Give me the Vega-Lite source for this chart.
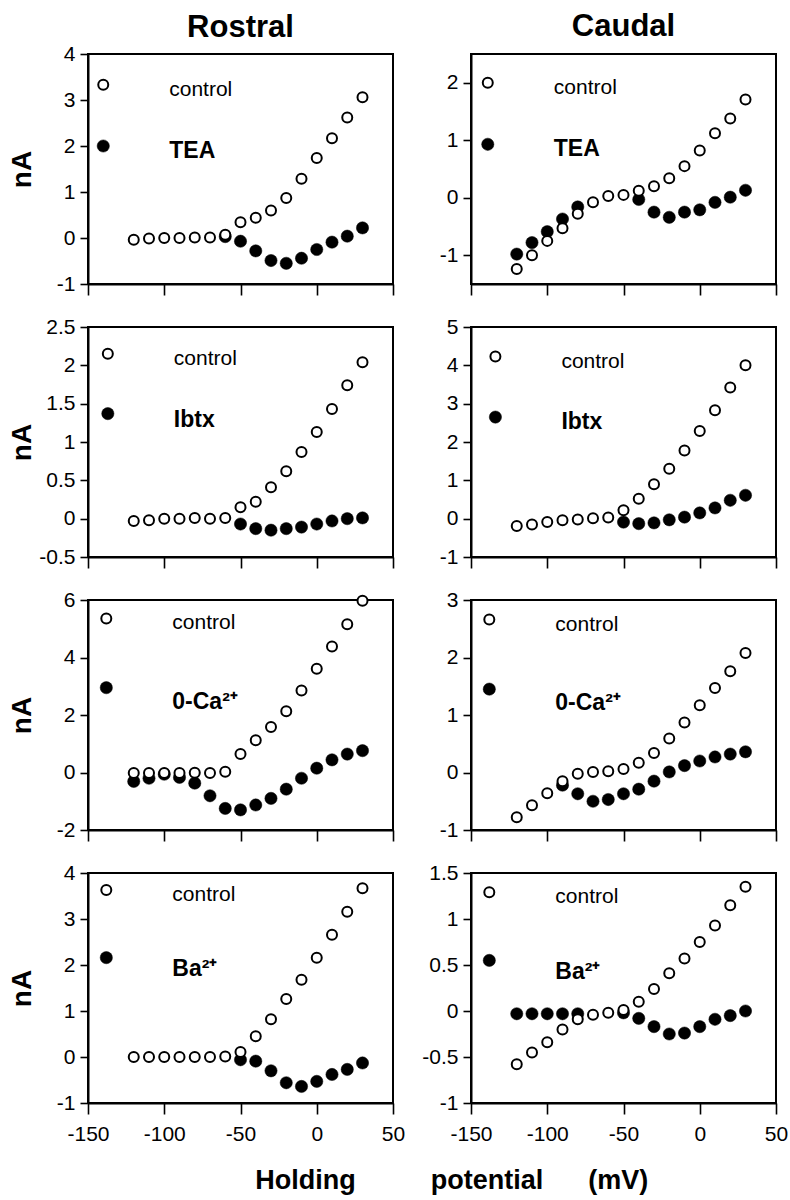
{
  "$schema": "https://vega.github.io/schema/vega-lite/v6.json",
  "background": "white",
  "padding": {"left": 7, "top": 10, "right": 5, "bottom": 5},
  "title": {"text": "Holding \u00a0\u00a0\u00a0\u00a0\u00a0\u00a0\u00a0\u00a0\u00a0potential \u00a0\u00a0\u00a0\u00a0\u00a0(mV)", "orient": "bottom", "anchor": "middle", "fontSize": 27, "fontWeight": "bold", "font": "Liberation Sans", "offset": 23, "dx": 54, "color": "black"},
  "data": {"values": [
    {"panel":"RT","cond":"control","mV":-120,"nA":-0.04},{"panel":"RT","cond":"control","mV":-110,"nA":-0.01},{"panel":"RT","cond":"control","mV":-100,"nA":0},{"panel":"RT","cond":"control","mV":-90,"nA":0},{"panel":"RT","cond":"control","mV":-80,"nA":0.01},{"panel":"RT","cond":"control","mV":-70,"nA":0.01},{"panel":"RT","cond":"control","mV":-60,"nA":0.07},{"panel":"RT","cond":"control","mV":-50,"nA":0.34},{"panel":"RT","cond":"control","mV":-40,"nA":0.44},{"panel":"RT","cond":"control","mV":-30,"nA":0.6},{"panel":"RT","cond":"control","mV":-20,"nA":0.87},{"panel":"RT","cond":"control","mV":-10,"nA":1.29},{"panel":"RT","cond":"control","mV":0,"nA":1.74},{"panel":"RT","cond":"control","mV":10,"nA":2.17},{"panel":"RT","cond":"control","mV":20,"nA":2.62},{"panel":"RT","cond":"control","mV":30,"nA":3.06},
    {"panel":"RT","cond":"drug","mV":-60,"nA":0.03},{"panel":"RT","cond":"drug","mV":-50,"nA":-0.07},{"panel":"RT","cond":"drug","mV":-40,"nA":-0.28},{"panel":"RT","cond":"drug","mV":-30,"nA":-0.49},{"panel":"RT","cond":"drug","mV":-20,"nA":-0.55},{"panel":"RT","cond":"drug","mV":-10,"nA":-0.44},{"panel":"RT","cond":"drug","mV":0,"nA":-0.25},{"panel":"RT","cond":"drug","mV":10,"nA":-0.09},{"panel":"RT","cond":"drug","mV":20,"nA":0.04},{"panel":"RT","cond":"drug","mV":30,"nA":0.22},
    {"panel":"RT","cond":"control","mV":-140,"nA":3.33,"label":"control"},{"panel":"RT","cond":"drug","mV":-140,"nA":2.0,"label":"TEA"},

    {"panel":"CT","cond":"control","mV":-120,"nA":-1.24},{"panel":"CT","cond":"control","mV":-110,"nA":-1.0},{"panel":"CT","cond":"control","mV":-100,"nA":-0.75},{"panel":"CT","cond":"control","mV":-90,"nA":-0.53},{"panel":"CT","cond":"control","mV":-80,"nA":-0.28},{"panel":"CT","cond":"control","mV":-70,"nA":-0.08},{"panel":"CT","cond":"control","mV":-60,"nA":0.03},{"panel":"CT","cond":"control","mV":-50,"nA":0.05},{"panel":"CT","cond":"control","mV":-40,"nA":0.12},{"panel":"CT","cond":"control","mV":-30,"nA":0.2},{"panel":"CT","cond":"control","mV":-20,"nA":0.34},{"panel":"CT","cond":"control","mV":-10,"nA":0.55},{"panel":"CT","cond":"control","mV":0,"nA":0.82},{"panel":"CT","cond":"control","mV":10,"nA":1.12},{"panel":"CT","cond":"control","mV":20,"nA":1.38},{"panel":"CT","cond":"control","mV":30,"nA":1.71},
    {"panel":"CT","cond":"drug","mV":-120,"nA":-0.98},{"panel":"CT","cond":"drug","mV":-110,"nA":-0.78},{"panel":"CT","cond":"drug","mV":-100,"nA":-0.59},{"panel":"CT","cond":"drug","mV":-90,"nA":-0.37},{"panel":"CT","cond":"drug","mV":-80,"nA":-0.16},{"panel":"CT","cond":"drug","mV":-40,"nA":-0.03},{"panel":"CT","cond":"drug","mV":-30,"nA":-0.25},{"panel":"CT","cond":"drug","mV":-20,"nA":-0.34},{"panel":"CT","cond":"drug","mV":-10,"nA":-0.25},{"panel":"CT","cond":"drug","mV":0,"nA":-0.21},{"panel":"CT","cond":"drug","mV":10,"nA":-0.08},{"panel":"CT","cond":"drug","mV":20,"nA":0.01},{"panel":"CT","cond":"drug","mV":30,"nA":0.13},
    {"panel":"CT","cond":"control","mV":-139,"nA":2.0,"label":"control"},{"panel":"CT","cond":"drug","mV":-139,"nA":0.93,"label":"TEA"},

    {"panel":"RI","cond":"control","mV":-120,"nA":-0.03},{"panel":"RI","cond":"control","mV":-110,"nA":-0.02},{"panel":"RI","cond":"control","mV":-100,"nA":0},{"panel":"RI","cond":"control","mV":-90,"nA":0},{"panel":"RI","cond":"control","mV":-80,"nA":0.01},{"panel":"RI","cond":"control","mV":-70,"nA":0},{"panel":"RI","cond":"control","mV":-60,"nA":0.01},{"panel":"RI","cond":"control","mV":-50,"nA":0.15},{"panel":"RI","cond":"control","mV":-40,"nA":0.22},{"panel":"RI","cond":"control","mV":-30,"nA":0.41},{"panel":"RI","cond":"control","mV":-20,"nA":0.62},{"panel":"RI","cond":"control","mV":-10,"nA":0.87},{"panel":"RI","cond":"control","mV":0,"nA":1.13},{"panel":"RI","cond":"control","mV":10,"nA":1.43},{"panel":"RI","cond":"control","mV":20,"nA":1.74},{"panel":"RI","cond":"control","mV":30,"nA":2.04},
    {"panel":"RI","cond":"drug","mV":-50,"nA":-0.07},{"panel":"RI","cond":"drug","mV":-40,"nA":-0.13},{"panel":"RI","cond":"drug","mV":-30,"nA":-0.15},{"panel":"RI","cond":"drug","mV":-20,"nA":-0.13},{"panel":"RI","cond":"drug","mV":-10,"nA":-0.11},{"panel":"RI","cond":"drug","mV":0,"nA":-0.07},{"panel":"RI","cond":"drug","mV":10,"nA":-0.03},{"panel":"RI","cond":"drug","mV":20,"nA":0.0},{"panel":"RI","cond":"drug","mV":30,"nA":0.01},
    {"panel":"RI","cond":"control","mV":-137,"nA":2.15,"label":"control"},{"panel":"RI","cond":"drug","mV":-137,"nA":1.37,"label":"Ibtx"},

    {"panel":"CI","cond":"control","mV":-120,"nA":-0.19},{"panel":"CI","cond":"control","mV":-110,"nA":-0.15},{"panel":"CI","cond":"control","mV":-100,"nA":-0.09},{"panel":"CI","cond":"control","mV":-90,"nA":-0.04},{"panel":"CI","cond":"control","mV":-80,"nA":-0.02},{"panel":"CI","cond":"control","mV":-70,"nA":0.01},{"panel":"CI","cond":"control","mV":-60,"nA":0.03},{"panel":"CI","cond":"control","mV":-50,"nA":0.22},{"panel":"CI","cond":"control","mV":-40,"nA":0.52},{"panel":"CI","cond":"control","mV":-30,"nA":0.9},{"panel":"CI","cond":"control","mV":-20,"nA":1.3},{"panel":"CI","cond":"control","mV":-10,"nA":1.78},{"panel":"CI","cond":"control","mV":0,"nA":2.29},{"panel":"CI","cond":"control","mV":10,"nA":2.83},{"panel":"CI","cond":"control","mV":20,"nA":3.42},{"panel":"CI","cond":"control","mV":30,"nA":4.0},
    {"panel":"CI","cond":"drug","mV":-50,"nA":-0.09},{"panel":"CI","cond":"drug","mV":-40,"nA":-0.13},{"panel":"CI","cond":"drug","mV":-30,"nA":-0.11},{"panel":"CI","cond":"drug","mV":-20,"nA":-0.03},{"panel":"CI","cond":"drug","mV":-10,"nA":0.04},{"panel":"CI","cond":"drug","mV":0,"nA":0.15},{"panel":"CI","cond":"drug","mV":10,"nA":0.28},{"panel":"CI","cond":"drug","mV":20,"nA":0.48},{"panel":"CI","cond":"drug","mV":30,"nA":0.61},
    {"panel":"CI","cond":"control","mV":-134,"nA":4.23,"label":"control"},{"panel":"CI","cond":"drug","mV":-134,"nA":2.65,"label":"Ibtx"},

    {"panel":"RC","cond":"control","mV":-120,"nA":-0.02},{"panel":"RC","cond":"control","mV":-110,"nA":-0.02},{"panel":"RC","cond":"control","mV":-100,"nA":-0.02},{"panel":"RC","cond":"control","mV":-90,"nA":-0.02},{"panel":"RC","cond":"control","mV":-80,"nA":-0.01},{"panel":"RC","cond":"control","mV":-70,"nA":-0.02},{"panel":"RC","cond":"control","mV":-60,"nA":0.03},{"panel":"RC","cond":"control","mV":-50,"nA":0.64},{"panel":"RC","cond":"control","mV":-40,"nA":1.12},{"panel":"RC","cond":"control","mV":-30,"nA":1.58},{"panel":"RC","cond":"control","mV":-20,"nA":2.13},{"panel":"RC","cond":"control","mV":-10,"nA":2.85},{"panel":"RC","cond":"control","mV":0,"nA":3.61},{"panel":"RC","cond":"control","mV":10,"nA":4.38},{"panel":"RC","cond":"control","mV":20,"nA":5.16},{"panel":"RC","cond":"control","mV":30,"nA":5.97},
    {"panel":"RC","cond":"drug","mV":-120,"nA":-0.31},{"panel":"RC","cond":"drug","mV":-110,"nA":-0.2},{"panel":"RC","cond":"drug","mV":-100,"nA":-0.06},{"panel":"RC","cond":"drug","mV":-90,"nA":-0.17},{"panel":"RC","cond":"drug","mV":-80,"nA":-0.37},{"panel":"RC","cond":"drug","mV":-70,"nA":-0.81},{"panel":"RC","cond":"drug","mV":-60,"nA":-1.25},{"panel":"RC","cond":"drug","mV":-50,"nA":-1.3},{"panel":"RC","cond":"drug","mV":-40,"nA":-1.13},{"panel":"RC","cond":"drug","mV":-30,"nA":-0.9},{"panel":"RC","cond":"drug","mV":-20,"nA":-0.58},{"panel":"RC","cond":"drug","mV":-10,"nA":-0.2},{"panel":"RC","cond":"drug","mV":0,"nA":0.15},{"panel":"RC","cond":"drug","mV":10,"nA":0.44},{"panel":"RC","cond":"drug","mV":20,"nA":0.64},{"panel":"RC","cond":"drug","mV":30,"nA":0.76},
    {"panel":"RC","cond":"control","mV":-138,"nA":5.36,"label":"control"},{"panel":"RC","cond":"drug","mV":-138,"nA":2.95,"label":"0-Ca²⁺"},

    {"panel":"CC","cond":"control","mV":-120,"nA":-0.78},{"panel":"CC","cond":"control","mV":-110,"nA":-0.57},{"panel":"CC","cond":"control","mV":-100,"nA":-0.36},{"panel":"CC","cond":"control","mV":-90,"nA":-0.15},{"panel":"CC","cond":"control","mV":-80,"nA":-0.02},{"panel":"CC","cond":"control","mV":-70,"nA":0.01},{"panel":"CC","cond":"control","mV":-60,"nA":0.02},{"panel":"CC","cond":"control","mV":-50,"nA":0.06},{"panel":"CC","cond":"control","mV":-40,"nA":0.17},{"panel":"CC","cond":"control","mV":-30,"nA":0.34},{"panel":"CC","cond":"control","mV":-20,"nA":0.59},{"panel":"CC","cond":"control","mV":-10,"nA":0.87},{"panel":"CC","cond":"control","mV":0,"nA":1.17},{"panel":"CC","cond":"control","mV":10,"nA":1.47},{"panel":"CC","cond":"control","mV":20,"nA":1.76},{"panel":"CC","cond":"control","mV":30,"nA":2.08},
    {"panel":"CC","cond":"drug","mV":-90,"nA":-0.22},{"panel":"CC","cond":"drug","mV":-80,"nA":-0.37},{"panel":"CC","cond":"drug","mV":-70,"nA":-0.5},{"panel":"CC","cond":"drug","mV":-60,"nA":-0.47},{"panel":"CC","cond":"drug","mV":-50,"nA":-0.37},{"panel":"CC","cond":"drug","mV":-40,"nA":-0.29},{"panel":"CC","cond":"drug","mV":-30,"nA":-0.15},{"panel":"CC","cond":"drug","mV":-20,"nA":0.01},{"panel":"CC","cond":"drug","mV":-10,"nA":0.12},{"panel":"CC","cond":"drug","mV":0,"nA":0.2},{"panel":"CC","cond":"drug","mV":10,"nA":0.27},{"panel":"CC","cond":"drug","mV":20,"nA":0.32},{"panel":"CC","cond":"drug","mV":30,"nA":0.36},
    {"panel":"CC","cond":"control","mV":-138,"nA":2.66,"label":"control"},{"panel":"CC","cond":"drug","mV":-138,"nA":1.45,"label":"0-Ca²⁺"},

    {"panel":"RB","cond":"control","mV":-120,"nA":0},{"panel":"RB","cond":"control","mV":-110,"nA":0},{"panel":"RB","cond":"control","mV":-100,"nA":0},{"panel":"RB","cond":"control","mV":-90,"nA":0},{"panel":"RB","cond":"control","mV":-80,"nA":0},{"panel":"RB","cond":"control","mV":-70,"nA":0},{"panel":"RB","cond":"control","mV":-60,"nA":0.01},{"panel":"RB","cond":"control","mV":-50,"nA":0.11},{"panel":"RB","cond":"control","mV":-40,"nA":0.45},{"panel":"RB","cond":"control","mV":-30,"nA":0.82},{"panel":"RB","cond":"control","mV":-20,"nA":1.26},{"panel":"RB","cond":"control","mV":-10,"nA":1.68},{"panel":"RB","cond":"control","mV":0,"nA":2.16},{"panel":"RB","cond":"control","mV":10,"nA":2.66},{"panel":"RB","cond":"control","mV":20,"nA":3.16},{"panel":"RB","cond":"control","mV":30,"nA":3.67},
    {"panel":"RB","cond":"drug","mV":-50,"nA":-0.06},{"panel":"RB","cond":"drug","mV":-40,"nA":-0.09},{"panel":"RB","cond":"drug","mV":-30,"nA":-0.3},{"panel":"RB","cond":"drug","mV":-20,"nA":-0.56},{"panel":"RB","cond":"drug","mV":-10,"nA":-0.64},{"panel":"RB","cond":"drug","mV":0,"nA":-0.53},{"panel":"RB","cond":"drug","mV":10,"nA":-0.38},{"panel":"RB","cond":"drug","mV":20,"nA":-0.27},{"panel":"RB","cond":"drug","mV":30,"nA":-0.13},
    {"panel":"RB","cond":"control","mV":-138,"nA":3.63,"label":"control"},{"panel":"RB","cond":"drug","mV":-138,"nA":2.16,"label":"Ba²⁺"},

    {"panel":"CB","cond":"control","mV":-120,"nA":-0.58},{"panel":"CB","cond":"control","mV":-110,"nA":-0.45},{"panel":"CB","cond":"control","mV":-100,"nA":-0.34},{"panel":"CB","cond":"control","mV":-90,"nA":-0.2},{"panel":"CB","cond":"control","mV":-80,"nA":-0.09},{"panel":"CB","cond":"control","mV":-70,"nA":-0.04},{"panel":"CB","cond":"control","mV":-60,"nA":-0.02},{"panel":"CB","cond":"control","mV":-50,"nA":0.01},{"panel":"CB","cond":"control","mV":-40,"nA":0.1},{"panel":"CB","cond":"control","mV":-30,"nA":0.24},{"panel":"CB","cond":"control","mV":-20,"nA":0.41},{"panel":"CB","cond":"control","mV":-10,"nA":0.57},{"panel":"CB","cond":"control","mV":0,"nA":0.75},{"panel":"CB","cond":"control","mV":10,"nA":0.93},{"panel":"CB","cond":"control","mV":20,"nA":1.15},{"panel":"CB","cond":"control","mV":30,"nA":1.35},
    {"panel":"CB","cond":"drug","mV":-120,"nA":-0.03},{"panel":"CB","cond":"drug","mV":-110,"nA":-0.03},{"panel":"CB","cond":"drug","mV":-100,"nA":-0.03},{"panel":"CB","cond":"drug","mV":-90,"nA":-0.03},{"panel":"CB","cond":"drug","mV":-80,"nA":-0.03},{"panel":"CB","cond":"drug","mV":-50,"nA":-0.02},{"panel":"CB","cond":"drug","mV":-40,"nA":-0.08},{"panel":"CB","cond":"drug","mV":-30,"nA":-0.17},{"panel":"CB","cond":"drug","mV":-20,"nA":-0.25},{"panel":"CB","cond":"drug","mV":-10,"nA":-0.24},{"panel":"CB","cond":"drug","mV":0,"nA":-0.17},{"panel":"CB","cond":"drug","mV":10,"nA":-0.09},{"panel":"CB","cond":"drug","mV":20,"nA":-0.05},{"panel":"CB","cond":"drug","mV":30,"nA":0.0},
    {"panel":"CB","cond":"control","mV":-138,"nA":1.29,"label":"control"},{"panel":"CB","cond":"drug","mV":-138,"nA":0.55,"label":"Ba²⁺"}
  ]},
  "columns": 2,
  "bounds": "flush",
  "spacing": {"row": 43, "column": 78},
  "concat": [
    {
      "width": 305, "height": 230,
      "title": {"text": "Rostral", "fontSize": 31, "fontWeight": "bold", "offset": -1, "anchor": "middle", "color": "black", "font": "Liberation Sans"},
      "transform": [{"filter": "datum.panel === 'RT'"}],
      "encoding": {
        "x": {"field": "mV", "type": "quantitative", "scale": {"domain": [-150, 50], "nice": false}, "axis": {"values": [-150, -100, -50, 0, 50], "labels": false, "title": null}},
        "y": {"field": "nA", "type": "quantitative", "scale": {"domain": [-1, 4], "nice": false, "zero": false}, "axis": {"values": [-1, 0, 1, 2, 3, 4], "labelExpr": "datum.value < 0 ? '-' + format(-datum.value, '~g') : format(datum.value, '~g')", "title": "nA", "titleX": -66, "titleY": 115, "titleAngle": -90, "titleAlign": "center", "titleBaseline": "middle"}}
      },
      "layer": [
        {"transform": [{"filter": "datum.cond === 'drug'"}], "mark": {"type": "point", "shape": "circle", "filled": true, "fill": "black", "stroke": "black", "strokeWidth": 0.5, "size": 150, "opacity": 1}},
        {"transform": [{"filter": "datum.cond === 'control'"}], "mark": {"type": "point", "shape": "circle", "filled": true, "fill": "white", "stroke": "black", "strokeWidth": 2, "size": 100, "opacity": 1}},
        {"transform": [{"filter": "datum.label === 'control'"}], "mark": {"type": "text", "align": "left", "baseline": "middle", "dx": 66, "dy": 5, "fontSize": 21, "font": "Liberation Sans", "color": "black"}, "encoding": {"text": {"field": "label"}}},
        {"transform": [{"filter": "datum.cond === 'drug' && datum.label"}], "mark": {"type": "text", "align": "left", "baseline": "middle", "dx": 66, "dy": 5, "fontSize": 23, "fontWeight": "bold", "font": "Liberation Sans", "color": "black"}, "encoding": {"text": {"field": "label"}}}
      ]
    },
    {
      "width": 305, "height": 230,
      "title": {"text": "Caudal", "fontSize": 31, "fontWeight": "bold", "offset": 11, "anchor": "middle", "color": "black", "font": "Liberation Sans"},
      "transform": [{"filter": "datum.panel === 'CT'"}],
      "encoding": {
        "x": {"field": "mV", "type": "quantitative", "scale": {"domain": [-150, 50], "nice": false}, "axis": {"values": [-150, -100, -50, 0, 50], "labels": false, "title": null}},
        "y": {"field": "nA", "type": "quantitative", "scale": {"domain": [-1.5, 2.5], "nice": false, "zero": false}, "axis": {"values": [-1, 0, 1, 2], "labelExpr": "datum.value < 0 ? '-' + format(-datum.value, '~g') : format(datum.value, '~g')", "title": null}}
      },
      "layer": [
        {"transform": [{"filter": "datum.cond === 'drug'"}], "mark": {"type": "point", "shape": "circle", "filled": true, "fill": "black", "stroke": "black", "strokeWidth": 0.5, "size": 150, "opacity": 1}},
        {"transform": [{"filter": "datum.cond === 'control'"}], "mark": {"type": "point", "shape": "circle", "filled": true, "fill": "white", "stroke": "black", "strokeWidth": 2, "size": 100, "opacity": 1}},
        {"transform": [{"filter": "datum.label === 'control'"}], "mark": {"type": "text", "align": "left", "baseline": "middle", "dx": 66, "dy": 5, "fontSize": 21, "font": "Liberation Sans", "color": "black"}, "encoding": {"text": {"field": "label"}}},
        {"transform": [{"filter": "datum.cond === 'drug' && datum.label"}], "mark": {"type": "text", "align": "left", "baseline": "middle", "dx": 66, "dy": 5, "fontSize": 23, "fontWeight": "bold", "font": "Liberation Sans", "color": "black"}, "encoding": {"text": {"field": "label"}}}
      ]
    },
    {
      "width": 305, "height": 230,
      "transform": [{"filter": "datum.panel === 'RI'"}],
      "encoding": {
        "x": {"field": "mV", "type": "quantitative", "scale": {"domain": [-150, 50], "nice": false}, "axis": {"values": [-150, -100, -50, 0, 50], "labels": false, "title": null}},
        "y": {"field": "nA", "type": "quantitative", "scale": {"domain": [-0.5, 2.5], "nice": false, "zero": false}, "axis": {"values": [-0.5, 0, 0.5, 1, 1.5, 2, 2.5], "labelExpr": "datum.value < 0 ? '-' + format(-datum.value, '~g') : format(datum.value, '~g')", "title": "nA", "titleX": -66, "titleY": 115, "titleAngle": -90, "titleAlign": "center", "titleBaseline": "middle"}}
      },
      "layer": [
        {"transform": [{"filter": "datum.cond === 'drug'"}], "mark": {"type": "point", "shape": "circle", "filled": true, "fill": "black", "stroke": "black", "strokeWidth": 0.5, "size": 150, "opacity": 1}},
        {"transform": [{"filter": "datum.cond === 'control'"}], "mark": {"type": "point", "shape": "circle", "filled": true, "fill": "white", "stroke": "black", "strokeWidth": 2, "size": 100, "opacity": 1}},
        {"transform": [{"filter": "datum.label === 'control'"}], "mark": {"type": "text", "align": "left", "baseline": "middle", "dx": 66, "dy": 5, "fontSize": 21, "font": "Liberation Sans", "color": "black"}, "encoding": {"text": {"field": "label"}}},
        {"transform": [{"filter": "datum.cond === 'drug' && datum.label"}], "mark": {"type": "text", "align": "left", "baseline": "middle", "dx": 66, "dy": 6, "fontSize": 23, "fontWeight": "bold", "font": "Liberation Sans", "color": "black"}, "encoding": {"text": {"field": "label"}}}
      ]
    },
    {
      "width": 305, "height": 230,
      "transform": [{"filter": "datum.panel === 'CI'"}],
      "encoding": {
        "x": {"field": "mV", "type": "quantitative", "scale": {"domain": [-150, 50], "nice": false}, "axis": {"values": [-150, -100, -50, 0, 50], "labels": false, "title": null}},
        "y": {"field": "nA", "type": "quantitative", "scale": {"domain": [-1, 5], "nice": false, "zero": false}, "axis": {"values": [-1, 0, 1, 2, 3, 4, 5], "labelExpr": "datum.value < 0 ? '-' + format(-datum.value, '~g') : format(datum.value, '~g')", "title": null}}
      },
      "layer": [
        {"transform": [{"filter": "datum.cond === 'drug'"}], "mark": {"type": "point", "shape": "circle", "filled": true, "fill": "black", "stroke": "black", "strokeWidth": 0.5, "size": 150, "opacity": 1}},
        {"transform": [{"filter": "datum.cond === 'control'"}], "mark": {"type": "point", "shape": "circle", "filled": true, "fill": "white", "stroke": "black", "strokeWidth": 2, "size": 100, "opacity": 1}},
        {"transform": [{"filter": "datum.label === 'control'"}], "mark": {"type": "text", "align": "left", "baseline": "middle", "dx": 66, "dy": 5, "fontSize": 21, "font": "Liberation Sans", "color": "black"}, "encoding": {"text": {"field": "label"}}},
        {"transform": [{"filter": "datum.cond === 'drug' && datum.label"}], "mark": {"type": "text", "align": "left", "baseline": "middle", "dx": 66, "dy": 5, "fontSize": 23, "fontWeight": "bold", "font": "Liberation Sans", "color": "black"}, "encoding": {"text": {"field": "label"}}}
      ]
    },
    {
      "width": 305, "height": 230,
      "transform": [{"filter": "datum.panel === 'RC'"}],
      "encoding": {
        "x": {"field": "mV", "type": "quantitative", "scale": {"domain": [-150, 50], "nice": false}, "axis": {"values": [-150, -100, -50, 0, 50], "labels": false, "title": null}},
        "y": {"field": "nA", "type": "quantitative", "scale": {"domain": [-2, 6], "nice": false, "zero": false}, "axis": {"values": [-2, 0, 2, 4, 6], "labelExpr": "datum.value < 0 ? '-' + format(-datum.value, '~g') : format(datum.value, '~g')", "title": "nA", "titleX": -66, "titleY": 115, "titleAngle": -90, "titleAlign": "center", "titleBaseline": "middle"}}
      },
      "layer": [
        {"transform": [{"filter": "datum.cond === 'drug'"}], "mark": {"type": "point", "shape": "circle", "filled": true, "fill": "black", "stroke": "black", "strokeWidth": 0.5, "size": 150, "opacity": 1}},
        {"transform": [{"filter": "datum.cond === 'control'"}], "mark": {"type": "point", "shape": "circle", "filled": true, "fill": "white", "stroke": "black", "strokeWidth": 2, "size": 100, "opacity": 1}},
        {"transform": [{"filter": "datum.label === 'control'"}], "mark": {"type": "text", "align": "left", "baseline": "middle", "dx": 66, "dy": 5, "fontSize": 21, "font": "Liberation Sans", "color": "black"}, "encoding": {"text": {"field": "label"}}},
        {"transform": [{"filter": "datum.cond === 'drug' && datum.label"}], "mark": {"type": "text", "align": "left", "baseline": "middle", "dx": 66, "dy": 14, "fontSize": 23, "fontWeight": "bold", "font": "Liberation Sans", "color": "black"}, "encoding": {"text": {"field": "label"}}}
      ]
    },
    {
      "width": 305, "height": 230,
      "transform": [{"filter": "datum.panel === 'CC'"}],
      "encoding": {
        "x": {"field": "mV", "type": "quantitative", "scale": {"domain": [-150, 50], "nice": false}, "axis": {"values": [-150, -100, -50, 0, 50], "labels": false, "title": null}},
        "y": {"field": "nA", "type": "quantitative", "scale": {"domain": [-1, 3], "nice": false, "zero": false}, "axis": {"values": [-1, 0, 1, 2, 3], "labelExpr": "datum.value < 0 ? '-' + format(-datum.value, '~g') : format(datum.value, '~g')", "title": null}}
      },
      "layer": [
        {"transform": [{"filter": "datum.cond === 'drug'"}], "mark": {"type": "point", "shape": "circle", "filled": true, "fill": "black", "stroke": "black", "strokeWidth": 0.5, "size": 150, "opacity": 1}},
        {"transform": [{"filter": "datum.cond === 'control'"}], "mark": {"type": "point", "shape": "circle", "filled": true, "fill": "white", "stroke": "black", "strokeWidth": 2, "size": 100, "opacity": 1}},
        {"transform": [{"filter": "datum.label === 'control'"}], "mark": {"type": "text", "align": "left", "baseline": "middle", "dx": 66, "dy": 5, "fontSize": 21, "font": "Liberation Sans", "color": "black"}, "encoding": {"text": {"field": "label"}}},
        {"transform": [{"filter": "datum.cond === 'drug' && datum.label"}], "mark": {"type": "text", "align": "left", "baseline": "middle", "dx": 66, "dy": 14, "fontSize": 23, "fontWeight": "bold", "font": "Liberation Sans", "color": "black"}, "encoding": {"text": {"field": "label"}}}
      ]
    },
    {
      "width": 305, "height": 230,
      "transform": [{"filter": "datum.panel === 'RB'"}],
      "encoding": {
        "x": {"field": "mV", "type": "quantitative", "scale": {"domain": [-150, 50], "nice": false}, "axis": {"values": [-150, -100, -50, 0, 50], "labelExpr": "datum.value < 0 ? '-' + format(-datum.value, '~g') : format(datum.value, '~g')", "title": null}},
        "y": {"field": "nA", "type": "quantitative", "scale": {"domain": [-1, 4], "nice": false, "zero": false}, "axis": {"values": [-1, 0, 1, 2, 3, 4], "labelExpr": "datum.value < 0 ? '-' + format(-datum.value, '~g') : format(datum.value, '~g')", "title": "nA", "titleX": -66, "titleY": 115, "titleAngle": -90, "titleAlign": "center", "titleBaseline": "middle"}}
      },
      "layer": [
        {"transform": [{"filter": "datum.cond === 'drug'"}], "mark": {"type": "point", "shape": "circle", "filled": true, "fill": "black", "stroke": "black", "strokeWidth": 0.5, "size": 150, "opacity": 1}},
        {"transform": [{"filter": "datum.cond === 'control'"}], "mark": {"type": "point", "shape": "circle", "filled": true, "fill": "white", "stroke": "black", "strokeWidth": 2, "size": 100, "opacity": 1}},
        {"transform": [{"filter": "datum.label === 'control'"}], "mark": {"type": "text", "align": "left", "baseline": "middle", "dx": 66, "dy": 5, "fontSize": 21, "font": "Liberation Sans", "color": "black"}, "encoding": {"text": {"field": "label"}}},
        {"transform": [{"filter": "datum.cond === 'drug' && datum.label"}], "mark": {"type": "text", "align": "left", "baseline": "middle", "dx": 66, "dy": 11, "fontSize": 23, "fontWeight": "bold", "font": "Liberation Sans", "color": "black"}, "encoding": {"text": {"field": "label"}}}
      ]
    },
    {
      "width": 305, "height": 230,
      "transform": [{"filter": "datum.panel === 'CB'"}],
      "encoding": {
        "x": {"field": "mV", "type": "quantitative", "scale": {"domain": [-150, 50], "nice": false}, "axis": {"values": [-150, -100, -50, 0, 50], "labelExpr": "datum.value < 0 ? '-' + format(-datum.value, '~g') : format(datum.value, '~g')", "title": null}},
        "y": {"field": "nA", "type": "quantitative", "scale": {"domain": [-1, 1.5], "nice": false, "zero": false}, "axis": {"values": [-1, -0.5, 0, 0.5, 1, 1.5], "labelExpr": "datum.value < 0 ? '-' + format(-datum.value, '~g') : format(datum.value, '~g')", "title": null}}
      },
      "layer": [
        {"transform": [{"filter": "datum.cond === 'drug'"}], "mark": {"type": "point", "shape": "circle", "filled": true, "fill": "black", "stroke": "black", "strokeWidth": 0.5, "size": 150, "opacity": 1}},
        {"transform": [{"filter": "datum.cond === 'control'"}], "mark": {"type": "point", "shape": "circle", "filled": true, "fill": "white", "stroke": "black", "strokeWidth": 2, "size": 100, "opacity": 1}},
        {"transform": [{"filter": "datum.label === 'control'"}], "mark": {"type": "text", "align": "left", "baseline": "middle", "dx": 66, "dy": 5, "fontSize": 21, "font": "Liberation Sans", "color": "black"}, "encoding": {"text": {"field": "label"}}},
        {"transform": [{"filter": "datum.cond === 'drug' && datum.label"}], "mark": {"type": "text", "align": "left", "baseline": "middle", "dx": 66, "dy": 12, "fontSize": 23, "fontWeight": "bold", "font": "Liberation Sans", "color": "black"}, "encoding": {"text": {"field": "label"}}}
      ]
    }
  ],
  "config": {
    "font": "Liberation Sans",
    "view": {"stroke": "black", "strokeWidth": 2},
    "axis": {"grid": false, "domainColor": "black", "domainWidth": 2, "tickColor": "black", "tickWidth": 1.6, "labelColor": "black", "labelFont": "Liberation Sans", "labelFontSize": 21, "labelFlush": false, "labelOverlap": false, "titleColor": "black", "titleFont": "Liberation Sans", "titleFontSize": 28, "titleFontWeight": "bold"},
    "axisX": {"tickSize": 11, "labelPadding": 9},
    "axisY": {"tickSize": 8, "labelPadding": 5}
  }
}
